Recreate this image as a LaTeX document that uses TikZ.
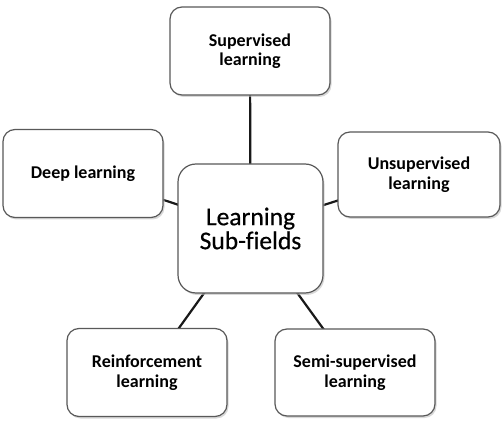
\documentclass[tikz,border=0pt]{standalone}
\usepackage{fontspec}
\setmainfont[Ligatures=NoCommon]{Carlito}
\newfontfamily\centerfont[Ligatures=NoCommon,FakeBold=0.5]{Carlito}
\usetikzlibrary{shadows}
\begin{document}
\begin{tikzpicture}[x=1pt,y=-1pt,
  box/.style={draw=black!65, line width=1.2pt, rounded corners=12pt, fill=white,
    drop shadow={shadow xshift=1.5pt, shadow yshift=-2pt, fill=black!25, opacity=0.6},
    minimum width=160pt, minimum height=88pt, align=center, inner sep=0pt,
    font=\fontsize{18}{19.5}\selectfont\bfseries},
  centerbox/.style={box, rounded corners=18pt, minimum width=145pt, minimum height=129pt,
    font=\centerfont\fontsize{25.5}{24}\selectfont},
  link/.style={line width=2.2pt, black!90}]
\useasboundingbox (0,0) rectangle (503,435);
\fill[white] (0,0) rectangle (503,435);
\coordinate (cc) at (250.5,228.5);
\draw[link] (cc) -- (250,51);
\draw[link] (cc) -- (83,173.5);
\draw[link] (cc) -- (419,174.5);
\draw[link] (cc) -- (147,372.5);
\draw[link] (cc) -- (355,372.5);
\node[box] (sup) at (250,51) {Supervised\\learning};
\node[box] (deep) at (83,173.5) {Deep learning};
\node[box, minimum width=162pt, minimum height=85pt] (uns) at (419,174.5) {Unsupervised\\learning};
\node[box] (rein) at (147,372.5) {Reinforcement\\learning};
\node[box, minimum height=87pt] (semi) at (355,372.5) {Semi-supervised\\learning};
\node[centerbox] (c) at (cc) {Learning\\Sub-fields};
\end{tikzpicture}
\end{document}
